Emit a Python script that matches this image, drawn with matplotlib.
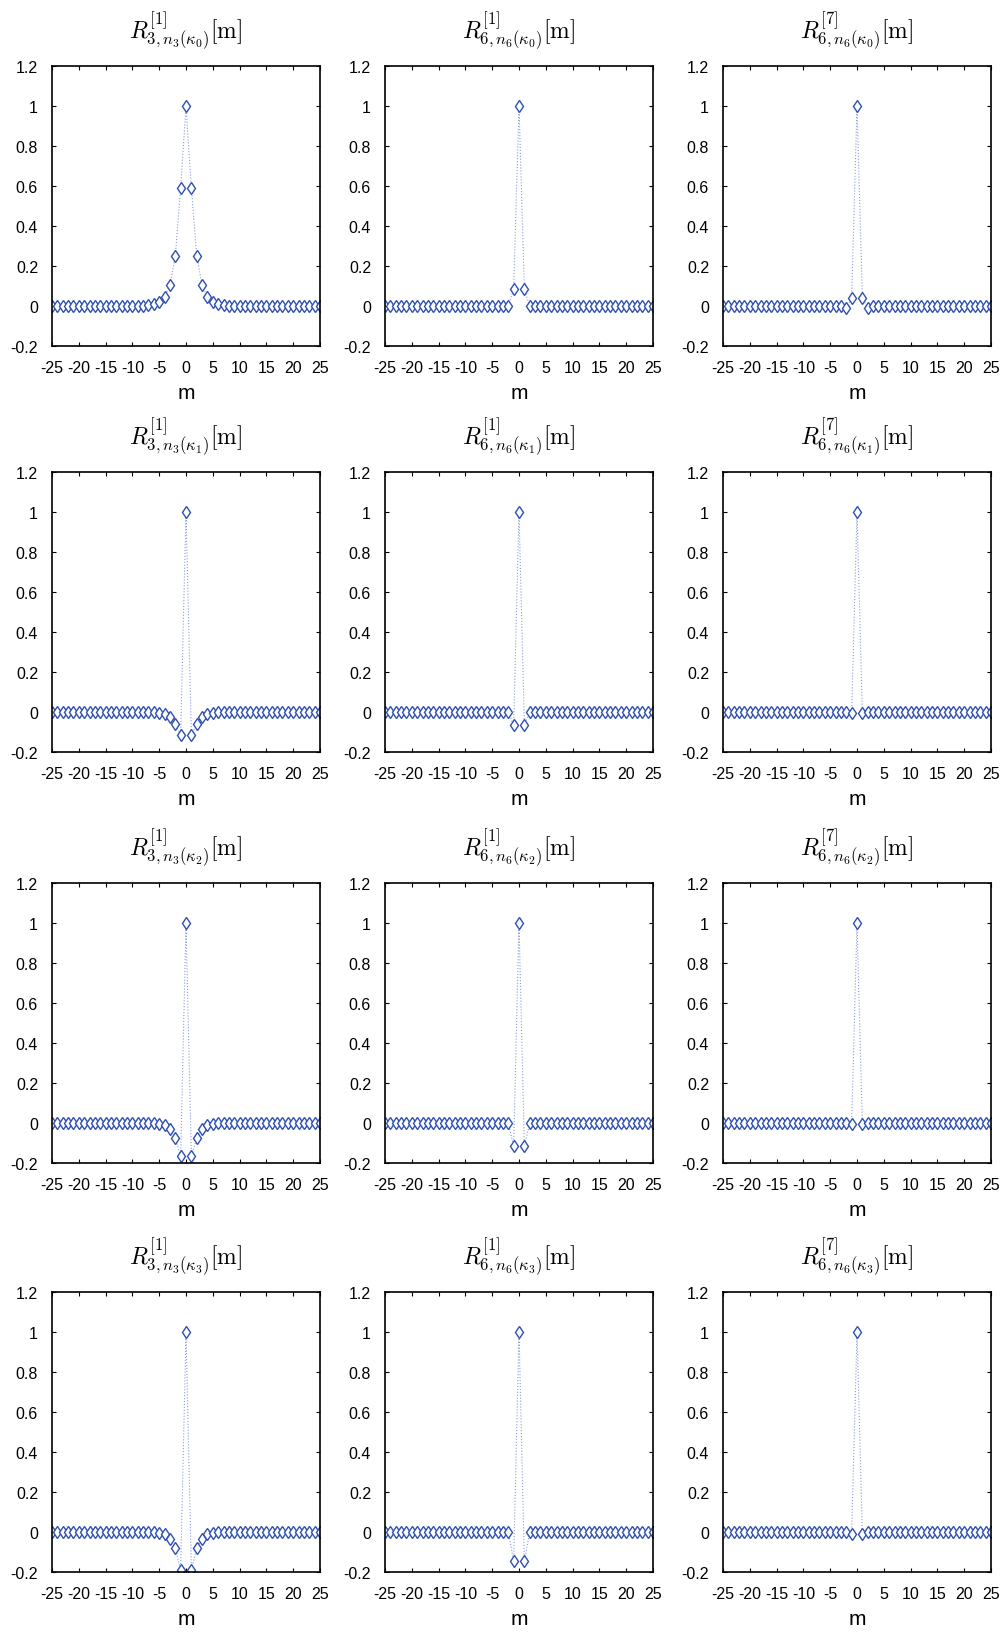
import numpy as np
import matplotlib
matplotlib.use("Agg")
import matplotlib.pyplot as plt

plt.rcParams['mathtext.fontset'] = 'cm'
plt.rcParams['font.family'] = ['Liberation Sans', 'DejaVu Sans']

m = np.arange(-25, 26)

# one-sided values for |m| = 1..7 (m=0 is 1, rest 0)
side_R3_k0 = [0.59, 0.25, 0.105, 0.045, 0.02, 0.01, 0.005]
side_R6_k0 = [0.085]
side_R67_k0 = [0.04, -0.01]
side_R3_k1 = [-0.115, -0.06, -0.025, -0.01, -0.004]
side_R6_k1 = [-0.065]
side_R67_k1 = [-0.004]
side_R3_k2 = [-0.165, -0.075, -0.03, -0.012, -0.005]
side_R6_k2 = [-0.115]
side_R67_k2 = [-0.004]
side_R3_k3 = [-0.19, -0.08, -0.035, -0.012, -0.005]
side_R6_k3 = [-0.145]
side_R67_k3 = [-0.01]

def build(side):
    v = np.zeros(len(m))
    v[m == 0] = 1.0
    for i, s in enumerate(side, start=1):
        v[m == i] = s
        v[m == -i] = s
    return v

panels = [
    [side_R3_k0, side_R6_k0, side_R67_k0],
    [side_R3_k1, side_R6_k1, side_R67_k1],
    [side_R3_k2, side_R6_k2, side_R67_k2],
    [side_R3_k3, side_R6_k3, side_R67_k3],
]
titles_fmt = [r'$R^{[1]}_{3,n_3(\kappa_%d)}[\mathrm{m}]$',
              r'$R^{[1]}_{6,n_6(\kappa_%d)}[\mathrm{m}]$',
              r'$R^{[7]}_{6,n_6(\kappa_%d)}[\mathrm{m}]$']

xticks = [-25, -20, -15, -10, -5, 0, 5, 10, 15, 20, 25]
yticks = [-0.2, 0, 0.2, 0.4, 0.6, 0.8, 1, 1.2]
ytick_labels = ['-0.2', '0', '0.2', '0.4', '0.6', '0.8', '1', '1.2']

W, H = 1003, 1633
fig = plt.figure(figsize=(W / 100, H / 100), dpi=100)

lefts = [52, 385, 723]
width = 268
tops = [67, 473, 884, 1293]
height = 280

for r in range(4):
    for c in range(3):
        ax = fig.add_axes([lefts[c] / W, 1 - (tops[r] + height) / H, width / W, height / H])
        v = build(panels[r][c])
        ax.plot(m, v, linestyle=':', color='#8a9ae0', linewidth=0.8, zorder=1)
        ax.plot(m, v, linestyle='none', marker='d', markersize=6, markerfacecolor='white',
                markeredgecolor='#3050b0', markeredgewidth=1.0, zorder=2)
        ax.set_xlim(-25, 25)
        ax.set_ylim(-0.2, 1.2)
        ax.set_xticks(xticks)
        ax.set_xticklabels([str(t) for t in xticks])
        ax.set_yticks(yticks)
        ax.set_yticklabels(ytick_labels)
        ax.tick_params(direction='in', top=True, right=True, labelsize=11.5, length=3, width=0.8)
        ax.tick_params(axis='y', pad=10)
        ax.tick_params(axis='x', pad=10)
        for s in ax.spines.values():
            s.set_linewidth(1.2)
        ax.set_xlabel('m', fontsize=15, labelpad=6)
        ax.set_title(titles_fmt[c] % r, fontsize=17, pad=20)

fig.savefig('out.png', dpi=100)
